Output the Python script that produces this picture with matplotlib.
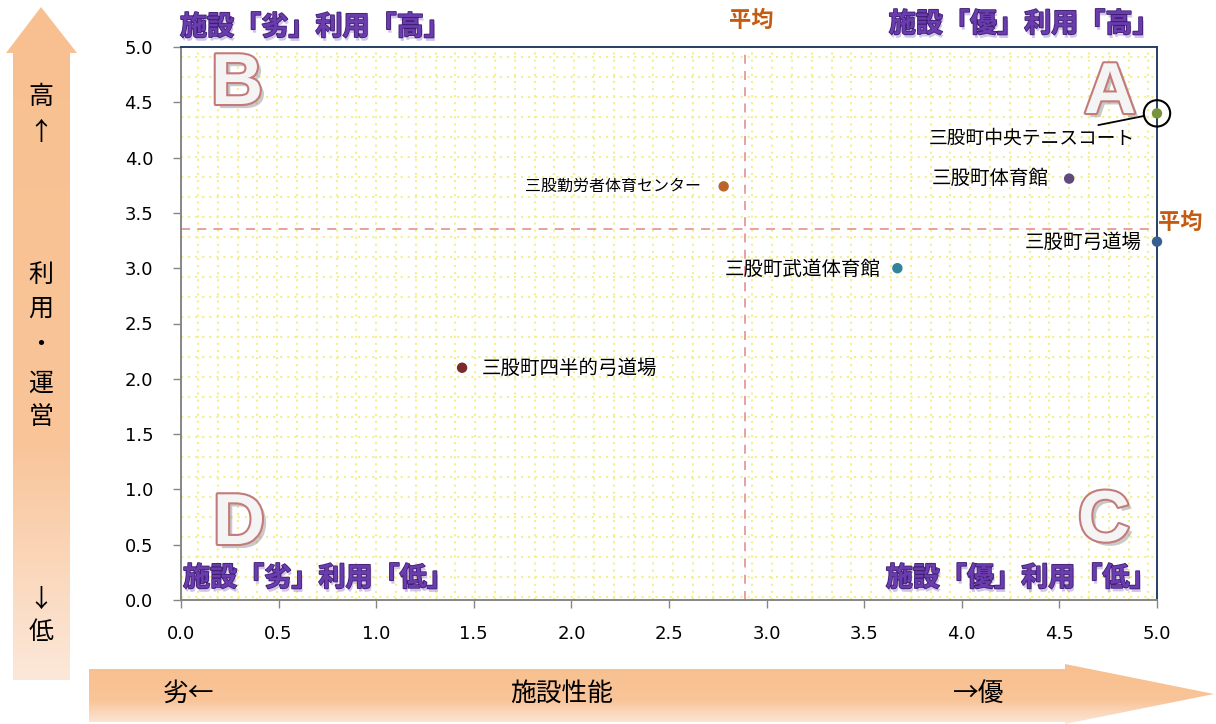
import numpy as np
import matplotlib
matplotlib.use('Agg')
import matplotlib.pyplot as plt
import matplotlib.patheffects as pe
from matplotlib.patches import Polygon

plt.rcParams['font.family'] = ['Noto Sans CJK JP', 'DejaVu Sans']

# data
names = ['三股町中央テニスコート', '三股町体育館', '三股勤労者体育センター',
         '三股町弓道場', '三股町武道体育館', '三股町四半的弓道場']
performance = [5.0, 4.55, 2.78, 5.0, 3.67, 1.44]
usage = [4.40, 3.81, 3.74, 3.24, 3.00, 2.10]
colors = ['#77933c', '#604a7b', '#b9652a', '#376092', '#31849b', '#7a2a28']
label_offsets = [(-22, -25), (-20, 0), (-23, 0), (-15, -1), (-17, -1), (20, -1)]
label_sizes = [13.5, 14, 11.5, 14, 14, 14]
avg_x = 2.89
avg_y = 3.35
xticks = [0.0, 0.5, 1.0, 1.5, 2.0, 2.5, 3.0, 3.5, 4.0, 4.5, 5.0]
yticks = [0.0, 0.5, 1.0, 1.5, 2.0, 2.5, 3.0, 3.5, 4.0, 4.5, 5.0]

W, H = 1216, 724
fig = plt.figure(figsize=(W / 100, H / 100), dpi=100)
fig.patch.set_facecolor('white')

# background layer for the gradient arrows (pixel coords)
bg = fig.add_axes([0, 0, 1, 1], zorder=0)
bg.set_xlim(0, W)
bg.set_ylim(H, 0)
bg.axis('off')

orange = np.array([248, 192, 144]) / 255
light = np.array([252, 232, 218]) / 255


def grad_arrow(pts, extent, fade):
    poly = Polygon(pts, closed=True, facecolor='none', edgecolor='none')
    bg.add_patch(poly)
    t = np.linspace(0, 1, 256)
    w = np.interp(t, fade[0], fade[1])
    img = orange[None, :] * (1 - w[:, None]) + light[None, :] * w[:, None]
    im = bg.imshow(img[:, None, :], extent=extent, aspect='auto', zorder=1)
    im.set_clip_path(poly)


grad_arrow([(13, 680), (13, 53), (6, 53), (41, 7), (77, 53), (70, 53), (70, 680)],
           (5, 77, 680, 7), ([0, 0.65, 1], [0, 0.12, 1]))
grad_arrow([(89, 669), (1065, 669), (1065, 664), (1214, 694), (1065, 724),
            (1065, 722), (89, 722)],
           (89, 1214, 724, 664), ([0, 0.6, 1], [0, 0.1, 1]))

# main plot
ax = fig.add_axes([181 / W, 1 - 600 / H, 976 / W, 553 / H], zorder=1)
ax.set_xlim(0, 5)
ax.set_ylim(0, 5)
ax.set_facecolor('white')

# dotted background pattern
for px in np.arange(198, 1157, 19.8):
    ax.axvline((px - 181) / 976 * 5, color='#f4ef8c', lw=1.5, ls=(0, (1, 2.4)), zorder=0)
for py in np.arange(57, 600, 20):
    ax.axhline((600 - py) / 553 * 5, color='#f4ef8c', lw=1.5, ls=(0, (1, 2.4)), zorder=0)

ax.axvline(avg_x, color='#e59a9a', lw=1.3, ls=(0, (5, 4)), zorder=1)
ax.axhline(avg_y, color='#e59a9a', lw=1.3, ls=(0, (5, 4)), zorder=1)

ax.scatter(performance, usage, s=42, c=colors, edgecolors=colors, zorder=5, clip_on=False)
ax.scatter(performance[0], usage[0], s=360, facecolors='none', edgecolors='black',
           linewidths=1.5, zorder=5, clip_on=False)

for i in range(len(names)):
    dx, dy = label_offsets[i]
    if i == 0:
        ax.annotate(names[i], (performance[i], usage[i]), xytext=(dx, dy),
                    textcoords='offset pixels', ha='right', va='center',
                    fontsize=label_sizes[i], zorder=6,
                    arrowprops=dict(arrowstyle='-', color='black', lw=1.3,
                                    shrinkA=0, shrinkB=9.5))
    else:
        ax.annotate(names[i], (performance[i], usage[i]), xytext=(dx, dy),
                    textcoords='offset pixels', ha='left' if dx > 0 else 'right',
                    va='center', fontsize=label_sizes[i], zorder=6)

ax.set_xticks(xticks)
ax.set_yticks(yticks)
ax.set_xticklabels(['%.1f' % v for v in xticks], family='DejaVu Sans')
ax.set_yticklabels(['%.1f' % v for v in yticks], family='DejaVu Sans')
ax.tick_params(axis='x', direction='out', length=6, width=1, color='#868686',
               labelsize=13, pad=12)
ax.tick_params(axis='y', direction='out', length=6, width=1, color='#868686',
               labelsize=13, pad=14)
ax.spines['left'].set_color('#868686')
ax.spines['bottom'].set_color('#868686')
ax.spines['top'].set_color('#243f60')
ax.spines['right'].set_color('#243f60')
for s in ax.spines.values():
    s.set_linewidth(1.4)

# foreground overlay for texts placed in pixels
fg = fig.add_axes([0, 0, 1, 1], zorder=3)
fg.set_xlim(0, W)
fg.set_ylim(H, 0)
fg.axis('off')
fg.patch.set_alpha(0)

letter_fx = [pe.SimplePatchShadow(offset=(3, -3), shadow_rgbFace='#888888', alpha=0.45),
             pe.Stroke(linewidth=3, foreground='#c47a7a'), pe.Normal()]
for ch, x, y in [('B', 237, 85), ('A', 1110, 94), ('D', 239, 525), ('C', 1104, 522)]:
    fg.text(x, y, ch, fontsize=52, fontweight='bold', family='Liberation Sans',
            color='#f4f4f4', ha='center', va='center', path_effects=letter_fx)

quad_fx = [pe.SimplePatchShadow(offset=(1, -2.5), shadow_rgbFace='#9a82c8', alpha=0.45),
           pe.Stroke(linewidth=1.2, foreground='#3f1f73'), pe.Normal()]
quad = [('施設「劣」利用「高」', 180, 27, 'left'),
        ('施設「優」利用「高」', 1160, 24, 'right'),
        ('施設「劣」利用「低」', 183, 578, 'left'),
        ('施設「優」利用「低」', 1157, 578, 'right')]
for txt, x, y, ha in quad:
    fg.text(x, y, txt, fontsize=19.5, fontweight='bold', color='#6a3cad',
            ha=ha, va='center', path_effects=quad_fx)

fg.text(751, 20, '平均', fontsize=16, fontweight='bold', color='#c55a11',
        ha='center', va='center')
fg.text(1180, 222, '平均', fontsize=16, fontweight='bold', color='#c55a11',
        ha='center', va='center')

# axis arrow texts
for txt, y in [('高', 97), ('↑', 133), ('利', 275), ('用', 309), ('・', 345),
               ('運', 384), ('営', 417), ('↓', 600), ('低', 632)]:
    fg.text(41, y, txt, fontsize=18, ha='center', va='center', color='black')
fg.text(189, 694, '劣←', fontsize=18.5, ha='center', va='center')
fg.text(562, 694, '施設性能', fontsize=18.5, ha='center', va='center')
fg.text(979, 694, '→優', fontsize=18.5, ha='center', va='center')

fig.savefig('out.png', dpi=100)
